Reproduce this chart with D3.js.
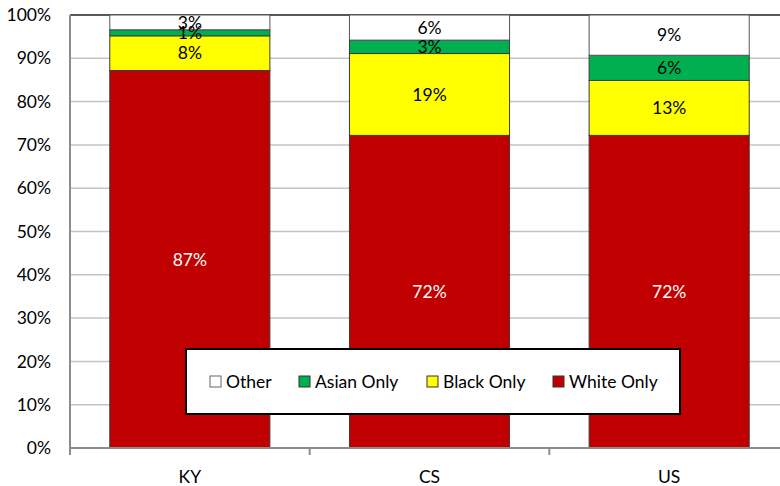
<!DOCTYPE html>
<html><head><meta charset="utf-8">
<script src="https://cdn.jsdelivr.net/npm/d3@7"></script>
<style>body{margin:0;background:#fff}svg{display:block}text{font-family:Lato,"Open Sans",sans-serif}</style>
</head><body><svg id="c" width="780" height="486"></svg>
<script>
const categories = ["KY","CS","US"];
const seriesNames = ["White Only","Black Only","Asian Only","Other"];
const whiteOnly = [87.0, 72.2, 72.2];
const blackOnly = [8.0, 18.9, 12.7];
const asianOnly = [1.4, 3.1, 5.8];
const other = [3.4, 5.8, 9.3];
const yTicks = [0,10,20,30,40,50,60,70,80,90,100];
const colors = {"White Only":"#C00000","Black Only":"#FFFF00","Asian Only":"#00B050","Other":"#FFFFFF"};
const labelColors = {"White Only":"#FFFFFF","Black Only":"#000","Asian Only":"#000","Other":"#000"};
const legendOrder = ["Other","Asian Only","Black Only","White Only"];

const rows = categories.map((c,i)=>{
  const t = whiteOnly[i]+blackOnly[i]+asianOnly[i]+other[i];
  return {cat:c, total:t, "White Only":whiteOnly[i], "Black Only":blackOnly[i], "Asian Only":asianOnly[i], "Other":other[i]};
});
const norm = rows.map(r=>{const o={cat:r.cat}; seriesNames.forEach(s=>o[s]=r[s]/r.total*100); return o;});
const stacked = d3.stack().keys(seriesNames)(norm);

const svg = d3.select("#c");
const L=70, R=789, T=15, B=448;
const FS = 17.5;
const x = d3.scaleBand().domain(categories).range([L,R]).padding(0);
const y = d3.scaleLinear().domain([0,100]).range([B,T]);
const barFrac = 0.668;

// gridlines
svg.append("g").selectAll("line").data(yTicks.filter(d=>d>0 && d<100)).join("line")
  .attr("x1",L).attr("x2",780).attr("y1",d=>y(d)).attr("y2",d=>y(d))
  .attr("stroke","#c4c4c4").attr("stroke-width",1.5);
// top border line
svg.append("line").attr("x1",L).attr("x2",780).attr("y1",y(100)).attr("y2",y(100))
  .attr("stroke","#222").attr("stroke-width",1.5);

// y tick labels
svg.append("g").selectAll("text").data(yTicks).join("text")
  .attr("x",51).attr("y",d=>y(d)).attr("dy","0.35em").attr("text-anchor","end")
  .attr("font-size",FS).attr("fill","#000").text(d=>d+"%");

// bars
const bw = x.bandwidth()*barFrac;
const off = (x.bandwidth()-bw)/2;
stacked.forEach(layer=>{
  const key = layer.key;
  svg.append("g").selectAll("rect").data(layer).join("rect")
    .attr("x",d=>x(d.data.cat)+off).attr("width",bw)
    .attr("y",d=>y(d[1])).attr("height",d=>y(d[0])-y(d[1]))
    .attr("fill",colors[key]).attr("stroke",key==="Other"?"#555":"#3a3a3a").attr("stroke-width",1);
});
// labels
stacked.forEach(layer=>{
  const key = layer.key;
  svg.append("g").selectAll("text").data(layer).join("text")
    .attr("x",d=>x(d.data.cat)+x.bandwidth()/2)
    .attr("y",d=>(y(d[0])+y(d[1]))/2).attr("dy","0.36em")
    .attr("text-anchor","middle").attr("font-size",FS).attr("fill",labelColors[key])
    .text((d,i)=>Math.round(rows[i][key])+"%");
});

// axes lines
svg.append("line").attr("x1",L).attr("x2",L).attr("y1",T).attr("y2",B+7).attr("stroke","#8c8c8c").attr("stroke-width",2);
svg.append("line").attr("x1",L).attr("x2",780).attr("y1",B).attr("y2",B).attr("stroke","#8c8c8c").attr("stroke-width",2);
// category separator ticks
svg.append("g").selectAll("line").data(categories.slice(1)).join("line")
  .attr("x1",d=>x(d)).attr("x2",d=>x(d)).attr("y1",B).attr("y2",B+7)
  .attr("stroke","#8c8c8c").attr("stroke-width",2);
// category labels
svg.append("g").selectAll("text").data(categories).join("text")
  .attr("x",d=>x(d)+x.bandwidth()/2).attr("y",477).attr("dy","0.35em")
  .attr("text-anchor","middle").attr("font-size",FS).attr("fill","#000").text(d=>d);

// legend
const lg = svg.append("g");
lg.append("rect").attr("x",186).attr("y",349).attr("width",494).attr("height",65)
  .attr("fill","#fff").attr("stroke","#000").attr("stroke-width",2);
const legX = [210,299,427,553];
legendOrder.forEach((s,i)=>{
  lg.append("rect").attr("x",legX[i]).attr("y",376).attr("width",11).attr("height",11)
    .attr("fill",colors[s]).attr("stroke",s==="Other"?"#666":"#333").attr("stroke-width",1);
  lg.append("text").attr("x",legX[i]+16).attr("y",382).attr("dy","0.35em")
    .attr("font-size",FS).attr("fill","#000").text(s);
});
</script></body></html>
